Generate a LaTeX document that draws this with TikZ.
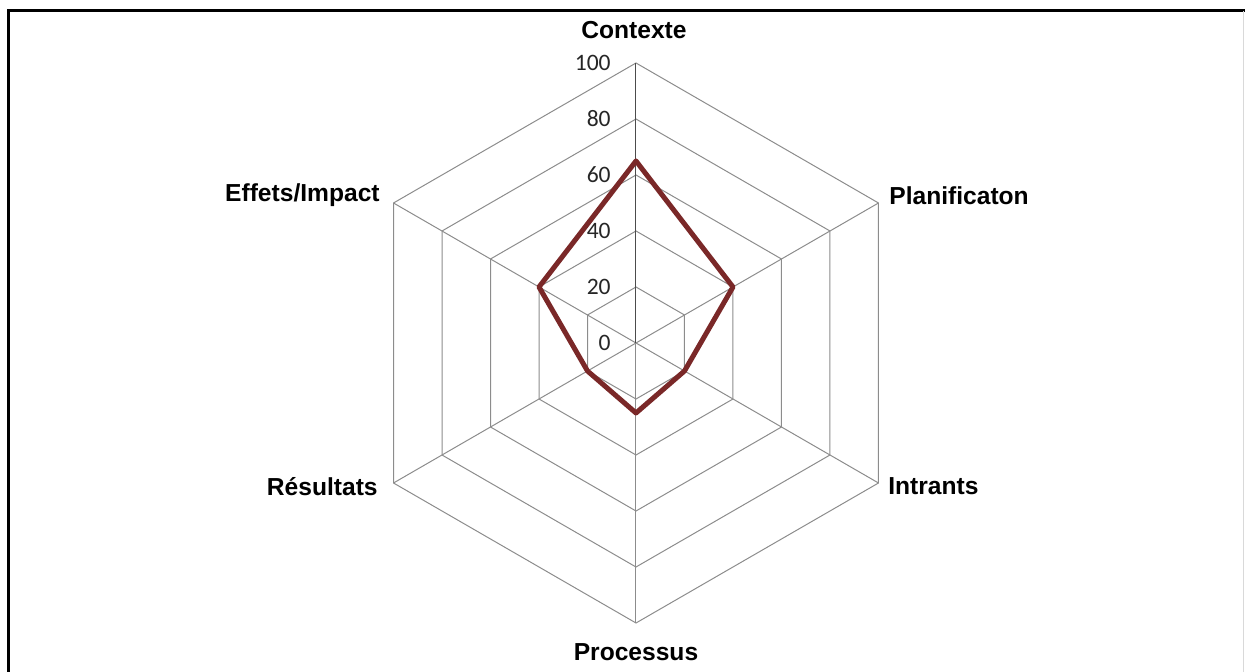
\documentclass[tikz,border=0pt]{standalone}
\usepackage{fontspec}
\setmainfont{Liberation Sans}
\newfontfamily\tickfont{Carlito}
\usetikzlibrary{calc,positioning}
\definecolor{gridgrey}{RGB}{140,140,140}
\definecolor{datared}{RGB}{122,40,40}
\tikzset{
  axislabel/.style={font=\fontsize{14}{16}\selectfont\bfseries, inner sep=0pt},
  ticklabel/.style={font=\tickfont\fontsize{13.4}{15}\selectfont, inner sep=0pt, anchor=east, text=black!85},
  gridline/.style={gridgrey, line width=0.02cm}
}

\begin{document}
\begin{tikzpicture}[x=0.02cm,y=0.02cm]
			\useasboundingbox (-636,-329) rectangle (609,343);
			% frame
			\draw[line width=0.06cm] (-627,-329) -- (-627,332) -- (609,332);
			\draw[gray!30, line width=0.02cm] (607,332) -- (607,-329);
			% grid
			\foreach \r in {56,112,...,280}
				\draw[gridline] (90:\r) -- (30:\r) -- (-30:\r) -- (-90:\r) -- (-150:\r) -- (150:\r) -- cycle;
			\foreach \a in {30,-30,-90,-150,150}
				\draw[gridline] (0,0) -- (\a:280);
			\draw[black!70, line width=0.02cm] (0,0) -- (90:280);
			% scale
			\foreach \v in {0,20,...,100}
				\node[ticklabel] (tick\v) at (-25,2.8*\v) {\v};
			% data
			\draw[datared, line width=0.1cm, line join=round] (90:182) -- (30:112) -- (-30:56) -- (-90:70) -- (-150:56) -- (150:112) -- cycle;
			% axes
			\node[axislabel] (contexte) at (-2,313) {Contexte};
			\node[axislabel, anchor=west] (planif) at (253,147) {Planificaton};
			\node[axislabel, anchor=west] (intrants) at (252,-143) {Intrants};
			\node[axislabel] (processus) at (0,-309) {Processus};
			\node[axislabel, anchor=east] (resultats) at (-258,-144) {Résultats};
			\node[axislabel, anchor=east] (effets) at (-256,148) {Effets/Impact};
\end{tikzpicture}
\end{document}
